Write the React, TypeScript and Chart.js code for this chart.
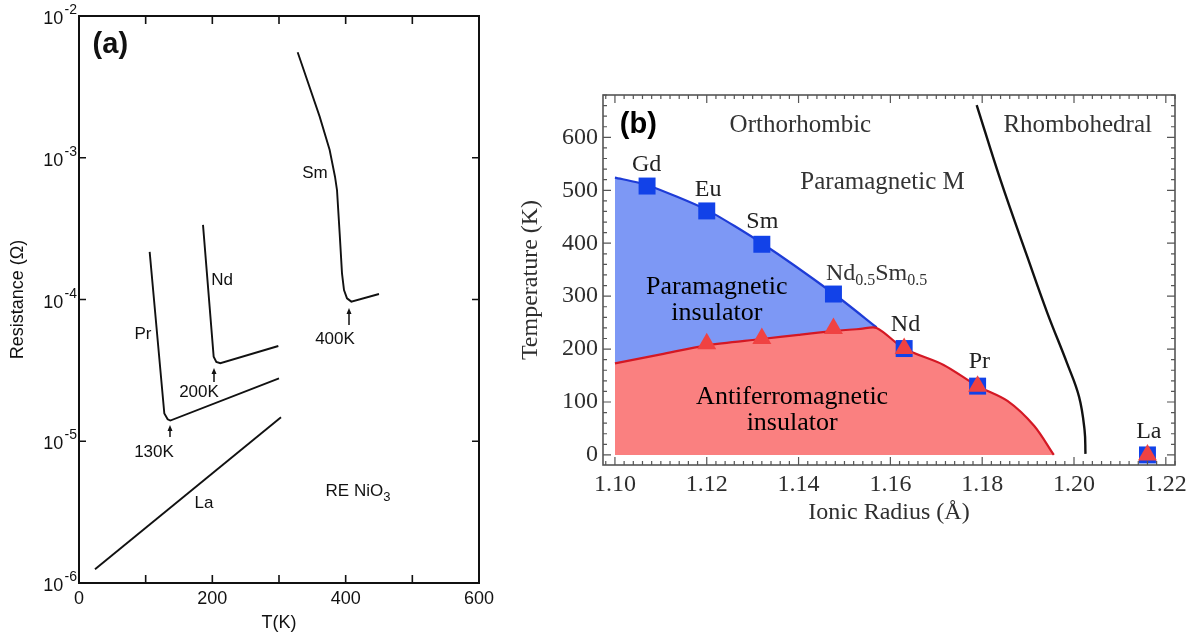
import React, { useEffect, useRef } from 'react';
import { Chart, registerables } from 'chart.js';
Chart.register(...registerables);

// ---------- Panel (a): resistance vs temperature ----------
const laT = [24, 303];
const laR = [1.25e-6, 1.476e-5];
const prT = [106, 128, 133, 137, 300];
const prR = [2.17e-4, 1.57e-5, 1.43e-5, 1.40e-5, 2.78e-5];
const ndT = [186, 202, 206, 212, 299];
const ndR = [3.36e-4, 3.95e-5, 3.63e-5, 3.55e-5, 4.70e-5];
const smT = [328, 361, 376, 384, 387, 391, 394.5, 397.5, 402, 408.5, 450];
const smR = [5.55e-3, 1.95e-3, 1.135e-3, 7.35e-4, 5.92e-4, 2.93e-4, 1.53e-4, 1.167e-4, 1.019e-4, 9.66e-5, 1.094e-4];

const aXLabelTicks = [0, 200, 400, 600];
const aXMarkTicks = [100, 200, 300, 400, 500];
const aYDecadeExps = [-6, -5, -4, -3, -2];

const aNotes = [
  { segs: [{ t: 'Sm', size: 17 }], T: 354, logR: -3.10 },
  { segs: [{ t: 'Nd', size: 17 }], T: 214.5, logR: -3.855 },
  { segs: [{ t: 'Pr', size: 17 }], T: 96, logR: -4.236 },
  { segs: [{ t: '400K', size: 17 }], T: 384, logR: -4.272 },
  { segs: [{ t: '200K', size: 17 }], T: 180, logR: -4.646 },
  { segs: [{ t: '130K', size: 17 }], T: 112.5, logR: -5.069 },
  { segs: [{ t: 'La', size: 17 }], T: 187.5, logR: -5.429 },
  { segs: [{ t: 'RE NiO', size: 17 }, { t: '3', size: 13, dy: 5 }], T: 418.5, logR: -5.344 },
  { segs: [{ t: '(a)', size: 29, bold: true }], T: 47, logR: -2.19 },
];
const aArrowT = [136.5, 202.5, 405];
const aArrowFromLogR = [-4.97, -4.582, -4.18];
const aArrowToLogR = [-4.885, -4.483, -4.06];

// ---------- Panel (b): phase diagram ----------
const radiusMI = [1.107, 1.12, 1.132, 1.1476, 1.163, 1.179, 1.216];
const tempMI = [508, 461, 398, 304, 201, 130, 0];
const radiusN = [1.12, 1.132, 1.1476, 1.163, 1.179, 1.216];
const tempN = [210, 220, 239, 201, 130, 0];
const miLineX = [1.1, 1.107, 1.12, 1.132, 1.1476, 1.157];
const miLineY = [524, 510, 463, 400, 305, 241];
const neelLineX = [1.1, 1.11, 1.12, 1.132, 1.14, 1.1476, 1.1535, 1.157, 1.163, 1.1716, 1.179, 1.1855, 1.1913, 1.1956];
const neelLineY = [173, 190, 207, 219, 227, 234, 238, 240, 201, 170, 130, 102, 55, 0];
const structX = [1.1788, 1.184, 1.1898, 1.1942, 1.1985, 1.2011, 1.2023, 1.2025];
const structY = [661, 519, 375, 268, 173, 110, 47, 2];

const bXLabelTicks = [1.1, 1.12, 1.14, 1.16, 1.18, 1.2, 1.22];
const bYLabelTicks = [0, 100, 200, 300, 400, 500, 600];

const SERIF = '"Liberation Serif", "Times New Roman", serif';
const SANS = '"Liberation Sans", Arial, sans-serif';

const bNotes = [
  { segs: [{ t: '(b)', size: 29, bold: true, fam: SANS }], x: 1.1051, y: 626, color: '#000' },
  { segs: [{ t: 'Orthorhombic', size: 25 }], x: 1.1404, y: 627, color: '#333' },
  { segs: [{ t: 'Rhombohedral', size: 25 }], x: 1.2008, y: 627, color: '#333' },
  { segs: [{ t: 'Paramagnetic M', size: 25 }], x: 1.1583, y: 519, color: '#333' },
  { segs: [{ t: 'Gd', size: 24 }], x: 1.1069, y: 551, color: '#222' },
  { segs: [{ t: 'Eu', size: 24 }], x: 1.1203, y: 504, color: '#222' },
  { segs: [{ t: 'Sm', size: 24 }], x: 1.1321, y: 444, color: '#222' },
  { segs: [{ t: 'Nd', size: 24 }, { t: '0.5', size: 16, dy: 5 }, { t: 'Sm', size: 24 }, { t: '0.5', size: 16, dy: 5 }], x: 1.157, y: 346, color: '#333' },
  { segs: [{ t: 'Nd', size: 24 }], x: 1.1633, y: 249, color: '#222' },
  { segs: [{ t: 'Pr', size: 24 }], x: 1.1794, y: 179, color: '#222' },
  { segs: [{ t: 'La', size: 24 }], x: 1.2163, y: 47, color: '#222' },
  { segs: [{ t: 'Paramagnetic', size: 26 }], x: 1.1222, y: 321, color: '#000' },
  { segs: [{ t: 'insulator', size: 26 }], x: 1.1222, y: 271, color: '#000' },
  { segs: [{ t: 'Antiferromagnetic', size: 26 }], x: 1.1386, y: 113, color: '#000' },
  { segs: [{ t: 'insulator', size: 26 }], x: 1.1386, y: 63, color: '#000' },
];

type Seg = { t: string; size: number; dy?: number; bold?: boolean; fam?: string };

function drawRich(ctx: CanvasRenderingContext2D, segs: Seg[], family: string, x: number, baseline: number, align: string, color: string) {
  ctx.save();
  ctx.fillStyle = color;
  ctx.textBaseline = 'alphabetic';
  ctx.textAlign = 'left';
  const fontOf = (s: Seg) => `${s.bold ? 'bold ' : ''}${s.size}px ${s.fam || family}`;
  const widths = segs.map((s) => {
    ctx.font = fontOf(s);
    return ctx.measureText(s.t).width;
  });
  const total = widths.reduce((a, b) => a + b, 0);
  let cx = align === 'center' ? x - total / 2 : align === 'right' ? x - total : x;
  segs.forEach((s, i) => {
    ctx.font = fontOf(s);
    ctx.fillText(s.t, cx, baseline + (s.dy || 0));
    cx += widths[i];
  });
  ctx.restore();
}

const aDecor = {
  id: 'aDecor',
  afterDraw(chart: any) {
    const { ctx, chartArea } = chart;
    const { left, right, top, bottom } = chartArea;
    const xs = chart.scales.x;
    const ys = chart.scales.y;
    ctx.save();
    ctx.strokeStyle = '#111';
    ctx.lineWidth = 2;
    ctx.strokeRect(left, top, right - left, bottom - top);
    ctx.lineWidth = 1.6;
    ctx.beginPath();
    aXMarkTicks.forEach((v) => {
      const px = xs.getPixelForValue(v);
      ctx.moveTo(px, bottom);
      ctx.lineTo(px, bottom - 8);
      ctx.moveTo(px, top);
      ctx.lineTo(px, top + 8);
    });
    aYDecadeExps.forEach((e) => {
      const py = ys.getPixelForValue(Math.pow(10, e));
      ctx.moveTo(left, py);
      ctx.lineTo(left + 7, py);
      ctx.moveTo(right, py);
      ctx.lineTo(right - 7, py);
    });
    ctx.stroke();
    aYDecadeExps.forEach((e) => {
      const py = ys.getPixelForValue(Math.pow(10, e));
      drawRich(ctx, [{ t: '10', size: 18 }, { t: ' ', size: 5 }, { t: String(e), size: 14, dy: -10 }], SANS, left - 2, py + 8, 'right', '#111');
    });
    aNotes.forEach((n) => {
      const px = xs.getPixelForValue(n.T);
      const py = ys.getPixelForValue(Math.pow(10, n.logR));
      drawRich(ctx, n.segs as Seg[], SANS, px, py + 0.36 * n.segs[0].size, 'center', '#111');
    });
    ctx.strokeStyle = '#111';
    ctx.fillStyle = '#111';
    ctx.lineWidth = 1.5;
    aArrowT.forEach((t, i) => {
      const px = xs.getPixelForValue(t);
      const y1 = ys.getPixelForValue(Math.pow(10, aArrowFromLogR[i]));
      const y2 = ys.getPixelForValue(Math.pow(10, aArrowToLogR[i]));
      ctx.beginPath();
      ctx.moveTo(px, y1);
      ctx.lineTo(px, y2 + 4);
      ctx.stroke();
      ctx.beginPath();
      ctx.moveTo(px, y2);
      ctx.lineTo(px - 2.5, y2 + 6);
      ctx.lineTo(px + 2.5, y2 + 6);
      ctx.closePath();
      ctx.fill();
    });
    ctx.restore();
  },
};

const bDecor = {
  id: 'bDecor',
  afterDraw(chart: any) {
    const { ctx, chartArea } = chart;
    const { left, right, top, bottom } = chartArea;
    const xs = chart.scales.x;
    const ys = chart.scales.y;
    ctx.save();
    ctx.strokeStyle = '#555';
    ctx.lineWidth = 1.6;
    ctx.strokeRect(left, top, right - left, bottom - top);
    ctx.lineWidth = 1.2;
    ctx.beginPath();
    for (let k = 549; k <= 611; k++) {
      const v = k * 0.002;
      if (v < xs.min || v > xs.max) continue;
      const major = k % 10 === 0;
      const len = major ? 8 : 4;
      const px = xs.getPixelForValue(v);
      ctx.moveTo(px, bottom);
      ctx.lineTo(px, bottom - len);
      ctx.moveTo(px, top);
      ctx.lineTo(px, top + len);
    }
    for (let v = 0; v <= 680; v += 20) {
      const major = v % 100 === 0;
      const len = major ? 8 : 4;
      const py = ys.getPixelForValue(v);
      ctx.moveTo(left, py);
      ctx.lineTo(left + len, py);
      ctx.moveTo(right, py);
      ctx.lineTo(right - len, py);
    }
    ctx.stroke();
    bNotes.forEach((n) => {
      const px = xs.getPixelForValue(n.x);
      const py = ys.getPixelForValue(n.y);
      drawRich(ctx, n.segs as Seg[], SERIF, px, py + 0.34 * n.segs[0].size, 'center', n.color);
    });
    ctx.restore();
  },
};

const pts = (xs: number[], ys: number[]) => xs.map((x, i) => ({ x, y: ys[i] }));

export default function App() {
  const refA = useRef<HTMLCanvasElement>(null);
  const refB = useRef<HTMLCanvasElement>(null);

  useEffect(() => {
    const lineA = (T: number[], R: number[]) => ({
      data: pts(T, R),
      borderColor: '#111',
      borderWidth: 1.9,
      pointRadius: 0,
      tension: 0,
      fill: false,
    });
    const chartA = new Chart(refA.current as HTMLCanvasElement, {
      type: 'line',
      data: { datasets: [lineA(laT, laR), lineA(prT, prR), lineA(ndT, ndR), lineA(smT, smR)] as any },
      options: {
        animation: false,
        responsive: false,
        devicePixelRatio: 1,
        events: [],
        layout: { padding: { left: 0, top: 16, right: 21, bottom: 0 } },
        plugins: { legend: { display: false }, tooltip: { enabled: false } },
        scales: {
          x: {
            type: 'linear',
            min: 0,
            max: 600,
            position: 'bottom',
            afterBuildTicks: (s: any) => {
              s.ticks = aXLabelTicks.map((v) => ({ value: v }));
            },
            afterFit: (s: any) => {
              s.height = 54;
            },
            grid: { display: false, drawTicks: false },
            border: { display: false },
            ticks: { font: { family: SANS, size: 18 }, color: '#111', padding: 5, maxRotation: 0, autoSkip: false },
            title: { display: true, text: 'T(K)', font: { family: SANS, size: 18 }, color: '#111', padding: { top: 0, bottom: 3 } },
          },
          y: {
            type: 'logarithmic',
            min: 1e-6,
            max: 1e-2,
            position: 'left',
            afterFit: (s: any) => {
              s.width = 79;
            },
            grid: { display: false, drawTicks: false },
            border: { display: false },
            ticks: { display: false },
            title: { display: true, text: 'Resistance (Ω)', font: { family: SANS, size: 18 }, color: '#111', padding: { top: 7, bottom: 0 } },
          },
        },
      } as any,
      plugins: [aDecor],
    });

    const chartB = new Chart(refB.current as HTMLCanvasElement, {
      type: 'line',
      data: {
        datasets: [
          {
            data: pts(radiusN, tempN),
            showLine: false,
            pointStyle: 'triangle',
            pointRadius: 11,
            backgroundColor: 'rgb(240,66,66)',
            borderColor: 'rgb(240,66,66)',
            borderWidth: 0,
          },
          {
            data: pts(radiusMI, tempMI),
            showLine: false,
            pointStyle: 'rect',
            pointRadius: 12,
            backgroundColor: 'rgb(18,66,232)',
            borderColor: 'rgb(18,66,232)',
            borderWidth: 0,
          },
          {
            data: pts(neelLineX, neelLineY),
            borderColor: 'rgb(212,24,36)',
            borderWidth: 2.2,
            pointRadius: 0,
            tension: 0.3,
            fill: 'origin',
            backgroundColor: 'rgb(250,128,128)',
          },
          {
            data: pts(miLineX, miLineY),
            borderColor: 'rgb(30,60,215)',
            borderWidth: 2.2,
            pointRadius: 0,
            tension: 0.2,
            fill: 'origin',
            backgroundColor: 'rgb(125,152,245)',
          },
          {
            data: pts(structX, structY),
            borderColor: '#111',
            borderWidth: 2.4,
            pointRadius: 0,
            tension: 0.4,
            fill: false,
          },
        ] as any,
      },
      options: {
        animation: false,
        responsive: false,
        devicePixelRatio: 1,
        events: [],
        layout: { padding: { left: 0, top: 95, right: 21, bottom: 100 } },
        plugins: { legend: { display: false }, tooltip: { enabled: false } },
        scales: {
          x: {
            type: 'linear',
            min: 1.0974,
            max: 1.222,
            position: 'bottom',
            afterBuildTicks: (s: any) => {
              s.ticks = bXLabelTicks.map((v) => ({ value: v }));
            },
            afterFit: (s: any) => {
              s.height = 72;
            },
            grid: { display: false, drawTicks: false },
            border: { display: false },
            ticks: {
              font: { family: SERIF, size: 24 },
              color: '#2e2e2e',
              padding: 5,
              maxRotation: 0,
              autoSkip: false,
              callback: (v: any) => Number(v).toFixed(2),
            },
            title: { display: true, text: 'Ionic Radius (Å)', font: { family: SERIF, size: 24 }, color: '#2e2e2e', padding: { top: 0, bottom: 10 } },
          },
          y: {
            type: 'linear',
            min: -19,
            max: 680,
            position: 'left',
            afterBuildTicks: (s: any) => {
              s.ticks = bYLabelTicks.map((v) => ({ value: v }));
            },
            afterFit: (s: any) => {
              s.width = 103;
            },
            grid: { display: false, drawTicks: false },
            border: { display: false },
            ticks: { font: { family: SERIF, size: 24 }, color: '#2e2e2e', padding: 5, autoSkip: false },
            title: { display: true, text: 'Temperature (K)', font: { family: SERIF, size: 24 }, color: '#2e2e2e', padding: { top: 16, bottom: 0 } },
          },
        },
      } as any,
      plugins: [bDecor],
    });

    return () => {
      chartA.destroy();
      chartB.destroy();
    };
  }, []);

  return (
    <div style={{ position: 'absolute', left: 0, top: 0, width: 1196, height: 637, background: '#fff', overflow: 'hidden' }}>
      <canvas ref={refA} width={500} height={637} style={{ position: 'absolute', left: 0, top: 0, width: 500, height: 637 }} />
      <canvas ref={refB} width={696} height={637} style={{ position: 'absolute', left: 500, top: 0, width: 696, height: 637 }} />
    </div>
  );
}
